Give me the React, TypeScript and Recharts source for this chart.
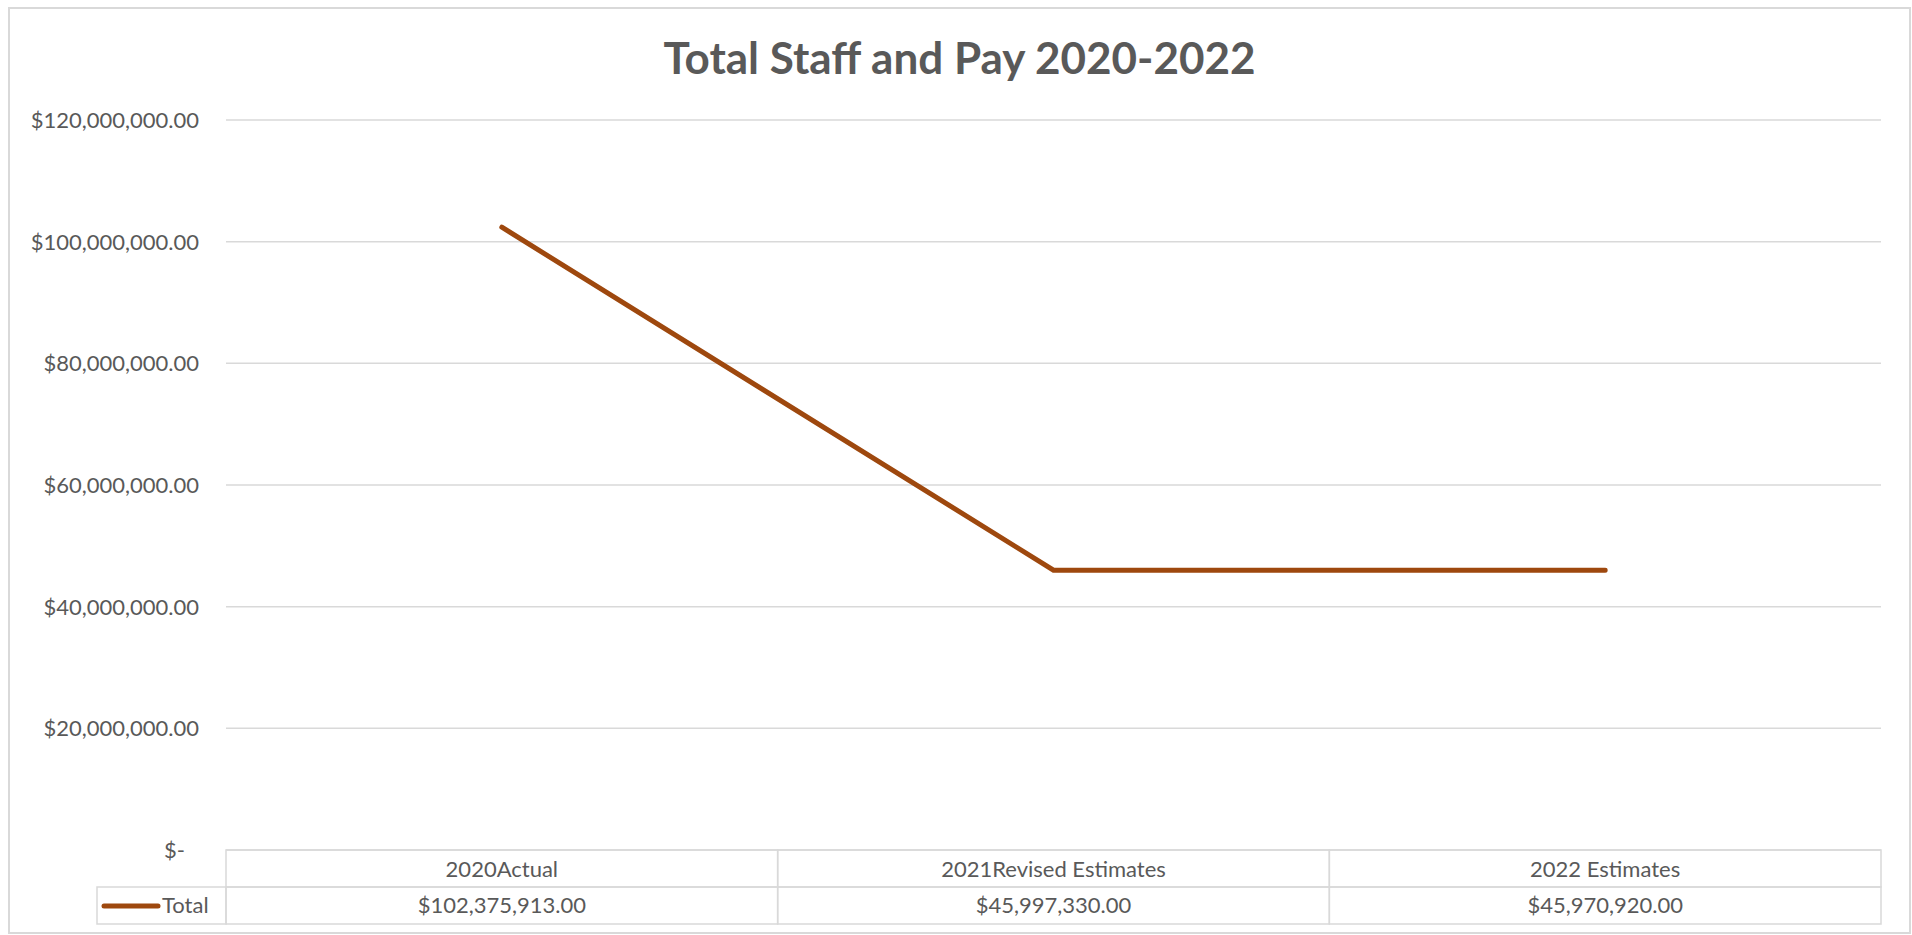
import { LineChart, Line, XAxis, YAxis, CartesianGrid } from "recharts";

const categories = ["2020Actual", "2021Revised Estimates", "2022 Estimates"];
const totalValues = [102375913, 45997330, 45970920];
const yTicks = [0, 20000000, 40000000, 60000000, 80000000, 100000000, 120000000];
const seriesName = "Total";

const data = categories.map((name, i) => ({ name, total: totalValues[i] }));

const W = 1903;
const H = 927;
const margin = { top: 113, right: 30, bottom: 4, left: 0 };
const yAxisWidth = 218;
const xAxisHeight = 80;
const cellW = (W - margin.left - margin.right - yAxisWidth) / categories.length;
const rowH = 37;

const FONT = "Lato, 'Open Sans', sans-serif";
const TEXT = "#595959";
const GRID = "#D9D9D9";
const LINE = "#9E480E";
const FS = 22;

const money = (v: number) =>
  "$" + v.toLocaleString("en-US", { minimumFractionDigits: 2, maximumFractionDigits: 2 });

function YTick(props: any) {
  const { x, y, payload } = props;
  const v = payload.value as number;
  return (
    <text x={v === 0 ? x - 14 : x} y={y} dy="0.36em" textAnchor="end" fontFamily={FONT} fontSize={FS} fill={TEXT}>
      {v === 0 ? "$-" : money(v)}
    </text>
  );
}

function TableTick(props: any) {
  const { x, y, payload } = props;
  const i = payload.index as number;
  const left = x - cellW / 2;
  return (
    <g>
      <rect x={left} y={y} width={cellW} height={rowH} fill="none" stroke={GRID} strokeWidth={1.5} />
      <rect x={left} y={y + rowH} width={cellW} height={rowH} fill="none" stroke={GRID} strokeWidth={1.5} />
      <text x={x} y={y + 26.5} textAnchor="middle" fontFamily={FONT} fontSize={FS} fill={TEXT}>
        {categories[i]}
      </text>
      <text x={x} y={y + rowH + 25.5} textAnchor="middle" fontFamily={FONT} fontSize={FS} fill={TEXT}>
        {money(totalValues[i])}
      </text>
      {i === 0 && (
        <g>
          <rect x={89} y={y + rowH} width={left - 89} height={rowH} fill="none" stroke={GRID} strokeWidth={1.5} />
          <line x1={96} x2={150} y1={y + rowH + 19} y2={y + rowH + 19} stroke={LINE} strokeWidth={5} strokeLinecap="round" />
          <text x={154} y={y + rowH + 25.5} fontFamily={FONT} fontSize={FS} fill={TEXT}>
            {seriesName}
          </text>
        </g>
      )}
    </g>
  );
}

export default function App() {
  return (
    <>
      <div
        style={{
          position: "absolute",
          left: 8,
          top: 7,
          width: W,
          height: H,
          boxSizing: "border-box",
          border: `2px solid ${GRID}`,
          background: "#fff",
        }}
      />
      <div
        style={{
          position: "absolute",
          left: 8,
          top: 35,
          width: W,
          textAlign: "center",
          fontFamily: FONT,
          fontWeight: 700,
          fontSize: 44,
          lineHeight: 1,
          color: TEXT,
        }}
      >
        Total Staff and Pay 2020-2022
      </div>
      <div style={{ position: "absolute", left: 8, top: 7 }}>
        <LineChart width={W} height={H} data={data} margin={margin}>
          <CartesianGrid vertical={false} stroke={GRID} strokeWidth={1.5} />
          <XAxis
            dataKey="name"
            height={xAxisHeight}
            axisLine={false}
            tickLine={false}
            tickSize={0}
            tickMargin={0}
            interval={0}
            padding={{ left: cellW / 2, right: cellW / 2 }}
            tick={(p: any) => <TableTick {...p} />}
          />
          <YAxis
            width={yAxisWidth}
            domain={[0, 120000000]}
            ticks={yTicks}
            axisLine={false}
            tickLine={false}
            tickSize={0}
            tickMargin={27}
            tick={(p: any) => <YTick {...p} />}
          />
          <Line
            type="linear"
            dataKey="total"
            stroke={LINE}
            strokeWidth={5}
            strokeLinecap="round"
            dot={false}
            activeDot={false}
            isAnimationActive={false}
          />
        </LineChart>
      </div>
    </>
  );
}
